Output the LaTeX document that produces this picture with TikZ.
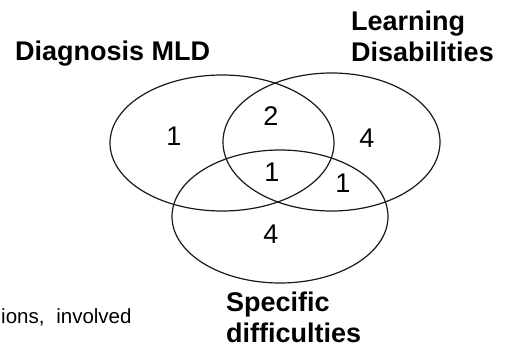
\documentclass[tikz,border=0pt]{standalone}
\usepackage{fontspec}
\setmainfont{Liberation Sans}
\begin{document}
\begin{tikzpicture}[x=1pt,y=-1pt,
  setline/.style={line width=1.2pt, black!90},
  setlabel/.style={font=\bfseries\fontsize{27}{31}\selectfont, anchor=base west, inner sep=0pt, align=left},
  count/.style={font=\fontsize{27}{30}\selectfont, inner sep=0pt},
  bodytext/.style={font=\fontsize{20.5}{24}\selectfont, anchor=base west, inner sep=0pt}]
\useasboundingbox (0,0) rectangle (510,348);
\draw[setline] (222,143) ellipse [x radius=112, y radius=68];
\draw[setline] (331.5,142) ellipse [x radius=108.5, y radius=69];
\draw[setline] (280,216.5) ellipse [x radius=108, y radius=66.5];
\node[setlabel] (mld) at (15,60.7) {Diagnosis MLD};
\node[setlabel] (ld) at (351,61.7) {Learning\\Disabilities};
\node[setlabel] (sd) at (226,342.5) {Specific\\difficulties};
\node[count] (a) at (174,136) {1};
\node[count] (ab) at (271,116) {2};
\node[count] (b) at (367,138) {4};
\node[count] (abc) at (272,172) {1};
\node[count] (bc) at (343,183) {1};
\node[count] (c) at (271,234) {4};
\node[bodytext] (txt) at (1,323) {ions,\hspace{0.3em} involved};
\end{tikzpicture}
\end{document}
